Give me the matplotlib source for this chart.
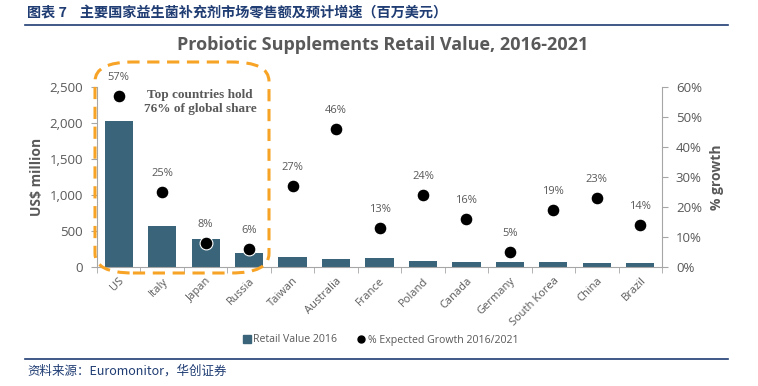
import matplotlib.pyplot as plt
from matplotlib.patches import FancyBboxPatch
from matplotlib.lines import Line2D
import numpy as np

countries = ['US', 'Italy', 'Japan', 'Russia', 'Taiwan', 'Australia', 'France',
             'Poland', 'Canada', 'Germany', 'South Korea', 'China', 'Brazil']
retail_2016 = [2030, 570, 390, 200, 135, 115, 120, 85, 70, 70, 65, 58, 52]
growth_pct = [57, 25, 8, 6, 27, 46, 13, 24, 16, 5, 19, 23, 14]

bar_color = '#3A6479'
txt_gray = '#595959'
spine_gray = '#A6A6A6'
navy = '#1F3C73'
orange = '#F7A325'

plt.rcParams['font.family'] = ['Open Sans', 'DejaVu Sans']

fig = plt.figure(figsize=(7.58, 3.86), dpi=100)
ax = fig.add_axes([97/758, 1-267/386, (662-97)/758, (267-87)/386])
ax2 = ax.twinx()

x = np.arange(len(countries))
ax.bar(x, retail_2016, width=0.65, color=bar_color, zorder=2)
ax2.scatter(x, growth_pct, s=85, color='black', edgecolors='white',
            linewidths=0.8, zorder=3)
for xi, g in zip(x, growth_pct):
    ax2.text(xi, g + 4.2, f'{g}%', ha='center', va='bottom', fontsize=8,
             color=txt_gray)

ax.set_xlim(-0.5, len(countries) - 0.5)
ax.set_ylim(0, 2500)
ax2.set_ylim(0, 60)
ax.set_yticks(range(0, 2501, 500))
ax.set_yticklabels([f'{v:,}' for v in range(0, 2501, 500)])
ax2.set_yticks(range(0, 61, 10))
ax2.set_yticklabels([f'{v}%' for v in range(0, 61, 10)])

ax.set_xticks(x)
ax.set_xticklabels(countries, rotation=45, ha='right', rotation_mode='anchor',
                   fontsize=8, color=txt_gray)
ax.set_xticks(np.arange(-0.5, len(countries)), minor=True)
ax.tick_params(axis='x', which='major', length=0, pad=6)
ax.tick_params(axis='x', which='minor', length=4, color=spine_gray)

for a in (ax, ax2):
    a.spines['top'].set_visible(False)
    for s in ('left', 'right', 'bottom'):
        a.spines[s].set_color(spine_gray)
ax.spines['right'].set_visible(False)
ax2.spines['left'].set_visible(False)
ax2.spines['bottom'].set_visible(False)
ax.tick_params(axis='y', length=4, color=spine_gray, labelcolor=txt_gray,
               labelsize=9.5, pad=6)
ax2.tick_params(axis='y', length=4, color=spine_gray, labelcolor=txt_gray,
                labelsize=9.5, pad=6)

ax.set_ylabel('US$ million', fontsize=10, fontweight='bold', color=txt_gray,
              labelpad=4)
ax2.set_ylabel('% growth', fontsize=10, fontweight='bold', color=txt_gray,
               labelpad=6)

fig.text(383/758, 1-45/386, 'Probiotic Supplements Retail Value, 2016-2021',
         ha='center', va='center', fontsize=13, fontweight='bold', color=txt_gray)

# highlight box
box = FancyBboxPatch((95/758, 1-273/386), (269-95)/758, (273-62)/386,
                     boxstyle='round,pad=0,rounding_size=0.05',
                     transform=fig.transFigure, fill=False, edgecolor=orange,
                     linewidth=2.2, linestyle=(0, (4, 2.5)), zorder=5)
fig.patches.append(box)
fig.text(200/758, 1-102/386, 'Top countries hold\n76% of global share',
         ha='center', va='center', fontsize=9.5, fontweight='bold',
         color=txt_gray, family=['Liberation Serif', 'DejaVu Serif'],
         linespacing=1.2)

handles = [Line2D([], [], marker='s', linestyle='none', color=bar_color,
                  markersize=6),
           Line2D([], [], marker='o', linestyle='none', color='black',
                  markersize=5)]
fig.legend(handles, ['Retail Value 2016', '% Expected Growth 2016/2021'],
           loc='center', bbox_to_anchor=(380/758, 1-340/386), ncol=2,
           frameon=False, fontsize=7.6, handletextpad=0.1, columnspacing=1.8,
           labelcolor=txt_gray, handlelength=1)

# report header / footer
fig.text(27/758, 1-13/386,
         '图表 7    主要国家益生菌补充剂市场零售额及预计增速（百万美元）',
         ha='left', va='center', fontsize=10.2, fontweight='bold', color=navy,
         family=['Noto Sans CJK SC', 'DejaVu Sans'])
fig.add_artist(Line2D([25/758, 728/758], [1-24.5/386, 1-24.5/386],
                      color=navy, linewidth=1.2, transform=fig.transFigure))
fig.add_artist(Line2D([25/758, 728/758], [1-359/386, 1-359/386],
                      color=navy, linewidth=1.2, transform=fig.transFigure))
fig.text(27/758, 1-371/386, '资料来源：Euromonitor，华创证券',
         ha='left', va='center', fontsize=9, color=navy, style='italic',
         family=['Noto Sans CJK SC', 'DejaVu Sans'])

fig.savefig('out.png', dpi=100)
